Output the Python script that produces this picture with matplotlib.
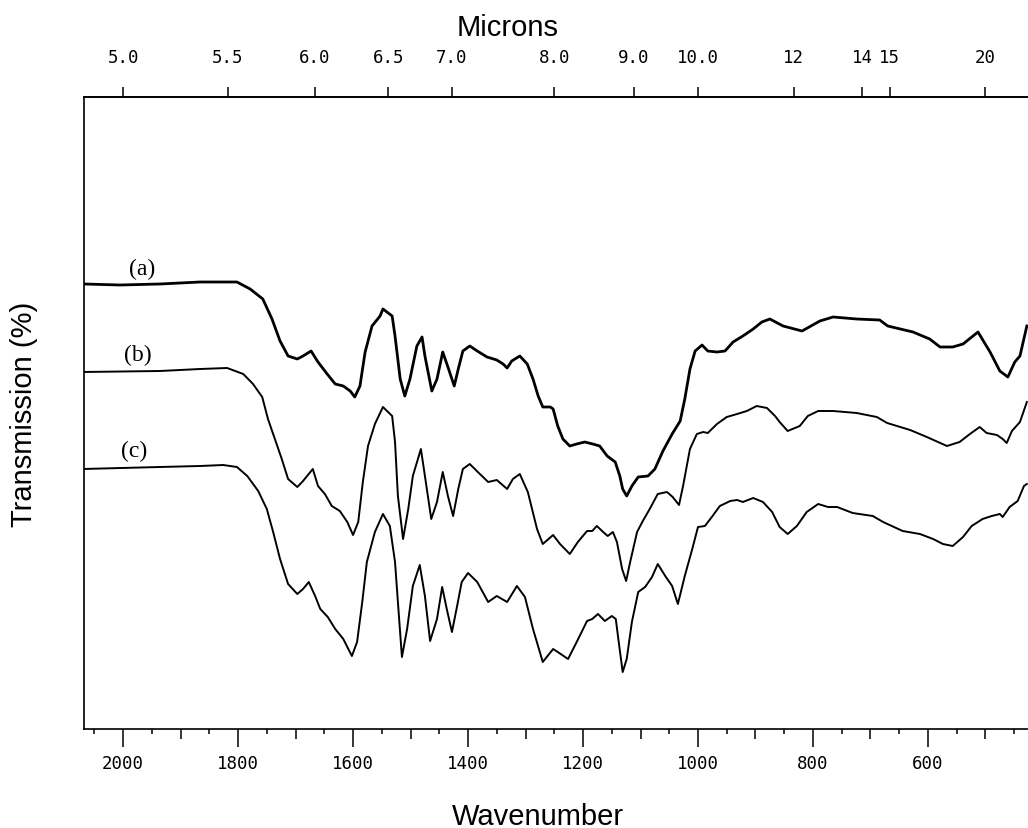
import numpy as np
import matplotlib
matplotlib.use("Agg")
import matplotlib.pyplot as plt

# ---- data (wavenumber cm^-1, transmission arbitrary units) ----
wn_a = [2068,2005,1936,1866,1802,1779,1757,1741,1727,1713,1697,1687,1673,1661,1645,1631,1617,1605,1597,1588,
        1579,1567,1553,1548,1532,1527,1518,1510,1501,1489,1480,1475,1463,1454,1444,1435,1424,1417,1409,1397,
        1384,1367,1350,1339,1332,1324,1310,1297,1287,1278,1270,1257,1252,1244,1235,1223,1211,1197,1183,1171,
        1158,1144,1136,1131,1124,1115,1104,1087,1075,1061,1045,1031,1023,1014,1005,993,983,967,953,939,
        922,904,889,875,852,819,788,765,724,684,670,626,597,579,557,539,513,492,475,461,449,440,428]
T_a = [44.5,44.4,44.5,44.7,44.7,44.0,43.0,41.0,38.8,37.3,37.0,37.3,37.8,36.7,35.5,34.5,34.3,33.8,33.2,34.3,
       37.7,40.3,41.3,42.0,41.3,39.3,35.0,33.3,35.0,38.3,39.2,37.3,33.8,35.0,37.7,36.2,34.3,36.0,37.8,38.3,
       37.8,37.2,36.9,36.5,36.1,36.8,37.3,36.5,35.0,33.3,32.2,32.2,32.0,30.3,29.0,28.3,28.5,28.7,28.5,28.3,
       27.3,26.7,25.3,24.0,23.3,24.3,25.2,25.3,26.0,27.8,29.5,30.8,33.0,36.0,37.8,38.4,37.8,37.7,37.8,38.7,
       39.3,40.0,40.7,41.0,40.3,39.8,40.8,41.2,41.0,40.9,40.3,39.7,39.0,38.2,38.2,38.5,39.7,37.7,35.8,35.2,
       36.7,37.3,40.3]

wn_b = [2070,1936,1866,1819,1791,1774,1758,1748,1736,1724,1713,1697,1687,1670,1661,1649,1637,1623,1610,1600,
        1591,1583,1574,1562,1548,1532,1527,1522,1513,1504,1496,1482,1475,1464,1454,1444,1435,1426,1417,1409,
        1397,1383,1365,1350,1332,1322,1310,1296,1280,1270,1252,1240,1223,1209,1193,1184,1176,1165,1157,1148,
        1141,1132,1125,1118,1106,1096,1084,1070,1054,1044,1033,1026,1014,1002,991,983,967,950,932,915,
        898,880,866,858,844,823,809,791,765,724,689,671,631,602,567,545,527,510,498,480,
        470,463,454,440,428]
T_b = [35.7,35.8,36.0,36.1,35.5,34.5,33.2,31.0,29.0,27.0,25.0,24.2,24.8,26.0,24.3,23.5,22.3,21.8,20.7,19.4,
       20.7,24.7,28.3,30.5,32.2,31.3,28.7,23.3,19.0,22.0,25.3,28.0,25.3,21.0,22.7,25.7,23.3,21.3,24.0,26.0,
       26.5,25.7,24.7,24.9,24.0,25.0,25.5,23.7,20.0,18.5,19.4,18.5,17.5,18.7,19.8,19.8,20.3,19.7,19.3,19.7,
       18.7,16.0,14.8,16.7,19.7,20.8,22.0,23.5,23.7,23.2,22.4,24.3,28.0,29.5,29.7,29.6,30.5,31.2,31.5,31.8,
       32.3,32.1,31.3,30.7,29.8,30.3,31.3,31.8,31.8,31.6,31.2,30.6,29.9,29.2,28.3,28.7,29.5,30.2,29.6,29.4,
       29.0,28.6,29.8,30.7,32.7]

wn_c = [2070,1936,1866,1826,1802,1784,1765,1750,1739,1727,1713,1697,1687,1677,1666,1657,1644,1631,1617,1602,
        1593,1584,1576,1562,1548,1536,1527,1522,1515,1506,1496,1484,1475,1466,1454,1445,1437,1428,1419,1411,
        1400,1384,1365,1350,1332,1315,1301,1287,1270,1252,1244,1226,1211,1193,1184,1174,1162,1150,1143,1137,
        1131,1124,1115,1104,1092,1080,1070,1057,1045,1035,1023,1010,1000,988,976,962,944,932,922,904,
        887,871,858,844,828,811,791,774,758,731,696,678,644,614,591,574,557,539,524,505,
        489,475,470,458,444,433,428]
T_c = [26.0,26.2,26.3,26.4,26.2,25.3,23.8,22.0,19.7,17.0,14.5,13.5,14.0,14.7,13.3,12.0,11.2,10.0,9.0,7.3,
       8.7,12.7,16.7,19.7,21.5,20.3,16.7,12.7,7.2,10.0,14.3,16.4,13.3,8.8,11.0,14.2,12.0,9.7,12.3,14.7,
       15.6,14.7,12.7,13.3,12.7,14.3,13.2,10.0,6.7,8.0,7.7,7.0,8.7,10.8,11.0,11.5,10.8,11.3,11.0,8.3,
       5.7,7.0,10.7,13.7,14.2,15.2,16.5,15.3,14.3,12.5,15.3,18.0,20.2,20.3,21.2,22.3,22.8,22.9,22.7,23.1,
       22.7,21.7,20.2,19.5,20.3,21.7,22.5,22.2,22.2,21.6,21.3,20.7,19.8,19.5,19.0,18.5,18.3,19.2,20.3,21.0,
       21.3,21.5,21.2,22.2,22.8,24.3,24.5]

curve_labels = ["(a)", "(b)", "(c)"]

wn_major = [2000, 1800, 1600, 1400, 1200, 1000, 800, 600]
wn_medium = [1900, 1700, 1500, 1300, 1100, 900, 700, 500]
wn_small = [2050, 1950, 1850, 1750, 1650, 1550, 1450, 1350, 1250, 1150, 1050, 950, 850, 750, 650, 550, 450]

micron_ticks = [5.0, 5.5, 6.0, 6.5, 7.0, 8.0, 9.0, 10.0, 12, 14, 15, 20]
micron_labels = ["5.0", "5.5", "6.0", "6.5", "7.0", "8.0", "9.0", "10.0", "12", "14", "15", "20"]

XLIM = (2068, 426)
YLIM = (0, 63.2)

# ---- figure ----
W, H = 1028, 829
fig = plt.figure(figsize=(W / 100, H / 100), dpi=100)
ax = fig.add_axes([84 / W, 1 - 730 / H, (W - 84) / W, 632 / H])
ax.set_xlim(*XLIM)
ax.set_ylim(*YLIM)

ax.plot(wn_a, T_a, color="black", lw=2.0, solid_joinstyle="round")
ax.plot(wn_b, T_b, color="black", lw=1.4, solid_joinstyle="round")
ax.plot(wn_c, T_c, color="black", lw=1.4, solid_joinstyle="round")

serif = ["Liberation Serif", "DejaVu Serif"]
ax.text(1967, 46.1, curve_labels[0], family=serif, fontsize=17, ha="center", va="center")
ax.text(1974, 37.5, curve_labels[1], family=serif, fontsize=17, ha="center", va="center")
ax.text(1981, 27.9, curve_labels[2], family=serif, fontsize=17, ha="center", va="center")

for s in ["left", "bottom", "top"]:
    ax.spines[s].set_linewidth(1.2)
ax.spines["right"].set_visible(False)
ax.set_yticks([])

mono = "DejaVu Sans Mono"
ax.set_xticks(wn_major)
ax.set_xticklabels([str(v) for v in wn_major], family=mono, fontsize=12.5)
ax.set_xticks(wn_medium, minor=True)
ax.tick_params(axis="x", which="major", direction="out", length=13, width=1.1, pad=5)
ax.tick_params(axis="x", which="minor", direction="out", length=7, width=1.1)
ax.tick_params(top=False, which="both")

# small ticks via a twin axis
ax3 = ax.twiny()
ax3.set_xlim(*XLIM)
ax3.xaxis.tick_bottom()
ax3.set_xticks(wn_small)
ax3.set_xticklabels([])
ax3.tick_params(axis="x", direction="out", length=3.6, width=1.1)
for s in ax3.spines.values():
    s.set_visible(False)
ax3.patch.set_visible(False)
ax3.set_yticks([])

# top micron axis
ax2 = ax.twiny()
ax2.set_xlim(*XLIM)
ax2.set_xticks([10000.0 / m for m in micron_ticks])
ax2.set_xticklabels(micron_labels, family=mono, fontsize=12.5)
ax2.tick_params(axis="x", direction="out", length=7, width=1.1, pad=15)
for s in ["left", "right", "bottom"]:
    ax2.spines[s].set_visible(False)
ax2.spines["top"].set_linewidth(1.2)
ax2.patch.set_visible(False)
ax2.set_yticks([])

sans = ["Liberation Sans", "DejaVu Sans"]
fig.text(508 / W, 1 - 36 / H, "Microns", family=sans, fontsize=21, ha="center", va="baseline")
fig.text(538 / W, 1 - 825 / H, "Wavenumber", family=sans, fontsize=21, ha="center", va="baseline")
fig.text(24 / W, 1 - 414 / H, "Transmission (%)", family=sans, fontsize=21, rotation=90,
         ha="center", va="center")

fig.savefig("out.png", dpi=100)
